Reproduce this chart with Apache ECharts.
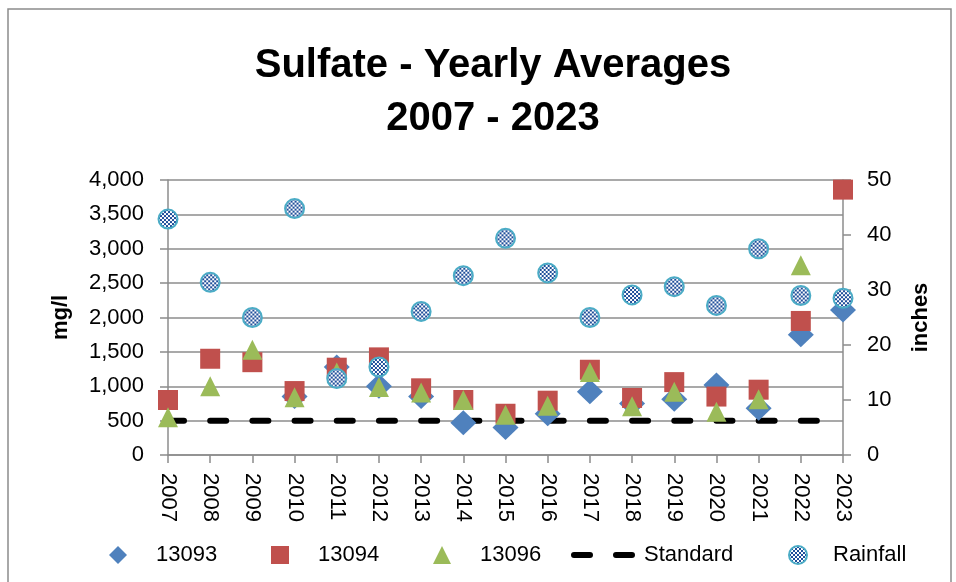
<!DOCTYPE html>
<html>
<head>
<meta charset="utf-8">
<script src="https://cdn.jsdelivr.net/npm/echarts@6/dist/echarts.min.js"></script>
<style>html,body{margin:0;padding:0;background:#fff;}#c{width:956px;height:582px;}</style>
</head>
<body>
<div id="c"></div>
<script>
const years = ['2007','2008','2009','2010','2011','2012','2013','2014','2015','2016','2017','2018','2019','2020','2021','2022','2023'];
const s13093 = [null, null, null, 850, 1280, 1000, 850, 470, 400, 600, 920, 750, 810, 1020, 680, 1750, 2110];
const s13094 = [800, 1400, 1350, 930, 1270, 1420, 970, 800, 600, 790, 1240, 830, 1060, 850, 950, 1950, 3860];
const s13096 = [550, 1000, 1530, 840, 1200, 990, 910, 800, 586, 718, 1206, 708, 920, 630, 810, 2760, null];
const standard = [500, 500, 500, 500, 500, 500, 500, 500, 500, 500, 500, 500, 500, 500, 500, 500, 500];
const rainfall = [42.9, 31.4, 25.0, 44.8, 13.9, 16.0, 26.1, 32.6, 39.4, 33.1, 25.0, 29.1, 30.6, 27.2, 37.5, 29.0, 28.5];
const leftTicks = { min: 0, max: 4000, interval: 500 };
const rightTicks = { min: 0, max: 50, interval: 10 };

const pc = document.createElement('canvas');
pc.width = 4; pc.height = 4;
const pctx = pc.getContext('2d');
pctx.fillStyle = '#ffffff'; pctx.fillRect(0, 0, 4, 4);
pctx.fillStyle = '#1f4e9a'; pctx.fillRect(0, 0, 2, 2); pctx.fillRect(2, 2, 2, 2);
const rainSize = 19;
const checkerScaled = { image: pc, repeat: 'repeat', scaleX: 2 / rainSize, scaleY: 2 / rainSize };
const checkerPlain = { image: pc, repeat: 'repeat' };

const chart = echarts.init(document.getElementById('c'), null, { renderer: 'canvas' });
const font = 'Liberation Sans';
const gridColor = '#8c8c8c';
function legendAt(item, left, w, pad, extra) {
  return Object.assign({
    show: true, orient: 'horizontal', left: left, top: 539,
    itemWidth: w, itemHeight: 18, itemGap: 0, selectedMode: false,
    data: [item],
    textStyle: { fontFamily: font, fontSize: 22, color: '#000', padding: [0, 0, 0, pad] }
  }, extra || {});
}
const option = {
  animation: false,
  backgroundColor: '#fff',
  title: {
    text: 'Sulfate - Yearly Averages\n2007 - 2023',
    left: 488, top: 34, textAlign: 'center',
    textStyle: { fontFamily: font, fontSize: 40, fontWeight: 'bold', color: '#000', lineHeight: 53 }
  },
  graphic: [{
    type: 'rect', shape: { x: 8, y: 9, width: 943, height: 620 },
    style: { fill: 'none', stroke: '#8c8c8c', lineWidth: 1.5 }, silent: true, z: -10
  }],
  legend: [
    legendAt({ name: '13093', icon: 'diamond' }, 104, 18, 24),
    legendAt({ name: '13094', icon: 'rect' }, 266, 18, 24),
    legendAt({ name: '13096', icon: 'triangle' }, 428, 18, 24),
    legendAt({ name: 'Standard', itemStyle: { opacity: 0 } }, 566, 60, 5,
      { lineStyle: { width: 6, color: '#000', cap: 'round', type: [16, 26] } }),
    legendAt({ name: 'Rainfall', icon: 'circle', itemStyle: { color: checkerPlain, borderColor: '#4bacc6', borderWidth: 2 } }, 783, 18, 21)
  ],
  grid: { left: 168, right: 113, top: 180, bottom: 127, containLabel: false },
  xAxis: {
    type: 'category', data: years, boundaryGap: false,
    axisLine: { lineStyle: { color: gridColor, width: 1.5 } },
    axisTick: { show: true, alignWithLabel: true, length: 8, lineStyle: { color: gridColor, width: 1.5 } },
    axisLabel: { rotate: -90, margin: 18, fontFamily: font, fontSize: 22, color: '#000', interval: 0 },
    splitLine: { show: false }
  },
  yAxis: [{
    type: 'value', min: leftTicks.min, max: leftTicks.max, interval: leftTicks.interval, position: 'left',
    name: 'mg/l', nameLocation: 'middle', nameGap: 96, nameRotate: 90,
    nameTextStyle: { fontFamily: font, fontSize: 22, fontWeight: 'bold', color: '#000' },
    axisLine: { show: true, lineStyle: { color: gridColor, width: 1.5 } },
    axisTick: { show: true, length: 8, lineStyle: { color: gridColor, width: 1.5 } },
    axisLabel: { margin: 24, fontFamily: font, fontSize: 22, color: '#000',
      formatter: v => v.toLocaleString('en-US') },
    splitLine: { show: true, lineStyle: { color: gridColor, width: 1.5 } }
  }, {
    type: 'value', min: rightTicks.min, max: rightTicks.max, interval: rightTicks.interval, position: 'right',
    name: 'inches', nameLocation: 'middle', nameGap: 67, nameRotate: 90,
    nameTextStyle: { fontFamily: font, fontSize: 22, fontWeight: 'bold', color: '#000' },
    axisLine: { show: true, lineStyle: { color: gridColor, width: 1.5 } },
    axisTick: { show: true, length: 8, lineStyle: { color: gridColor, width: 1.5 } },
    axisLabel: { margin: 24, fontFamily: font, fontSize: 22, color: '#000' },
    splitLine: { show: false }
  }],
  series: [
    { name: 'Standard', type: 'line', data: standard, yAxisIndex: 0, symbol: 'none', z: 1,
      lineStyle: { color: '#000', width: 6, type: [16, 26.19], cap: 'round' } },
    { name: '13093', type: 'scatter', data: s13093, yAxisIndex: 0, symbol: 'diamond', symbolSize: [26, 25], z: 2,
      itemStyle: { color: '#4f81bd', opacity: 1 } },
    { name: '13094', type: 'scatter', data: s13094, yAxisIndex: 0, symbol: 'rect', symbolSize: 20, z: 3,
      itemStyle: { color: '#c0504d', opacity: 1 } },
    { name: '13096', type: 'scatter', data: s13096, yAxisIndex: 0, symbol: 'triangle', symbolSize: 20, z: 4,
      itemStyle: { color: '#9bbb59', opacity: 1 } },
    { name: 'Rainfall', type: 'scatter', data: rainfall, yAxisIndex: 1, symbol: 'circle', symbolSize: rainSize, z: 5,
      itemStyle: { color: checkerScaled, borderColor: '#4bacc6', borderWidth: 2, opacity: 1 } }
  ]
};
chart.setOption(option);
</script>
</body>
</html>
